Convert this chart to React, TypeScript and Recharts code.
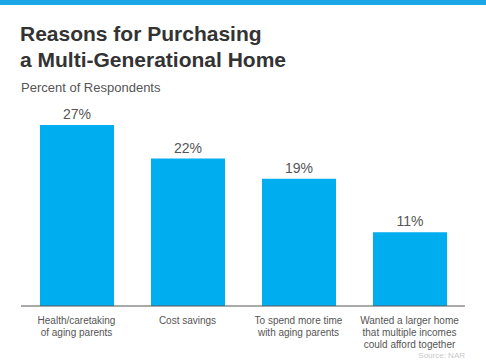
import React from "react";
import { BarChart, Bar, XAxis, YAxis, LabelList } from "recharts";

const categories = [
  "Health/caretaking\nof aging parents",
  "Cost savings",
  "To spend more time\nwith aging parents",
  "Wanted a larger home\nthat multiple incomes\ncould afford together",
];
const percents = [27, 22, 19, 11];

const data = categories.map((name, i) => ({ name, value: percents[i] }));

const FONT = "'Liberation Sans', Arial, sans-serif";
const BLUE = "#00aeef";

const MultiLineTick = ({ x, y, payload }: any) => {
  const lines = String(payload.value).split("\n");
  return (
    <text x={x} y={y} textAnchor="middle" fill="#555" fontSize={10} fontFamily={FONT}>
      {lines.map((line, i) => (
        <tspan key={i} x={x} dy={i === 0 ? 10 : 12}>
          {line}
        </tspan>
      ))}
    </text>
  );
};

export default function App() {
  return (
    <div
      style={{
        position: "absolute",
        top: 0,
        left: 0,
        width: 486,
        height: 360,
        background: "#fff",
        fontFamily: FONT,
        overflow: "hidden",
      }}
    >
      <div style={{ position: "absolute", top: 0, left: 0, width: 486, height: 5, background: "#1ba6e6" }} />
      <div
        style={{
          position: "absolute",
          top: 21,
          left: 20,
          fontSize: 21,
          lineHeight: "26px",
          fontWeight: 700,
          color: "#333",
        }}
      >
        Reasons for Purchasing
        <br />
        a Multi-Generational Home
      </div>
      <div style={{ position: "absolute", top: 80, left: 21, fontSize: 13, color: "#555" }}>
        Percent of Respondents
      </div>
      <div style={{ position: "absolute", top: 0, left: 0 }}>
        <BarChart
          width={486}
          height={360}
          data={data}
          margin={{ top: 105, right: 21, bottom: 0, left: 21 }}
        >
          <XAxis
            dataKey="name"
            height={54}
            interval={0}
            tick={<MultiLineTick />}
            tickLine={false}
            axisLine={{ stroke: "#555" }}
          />
          <YAxis hide domain={[0, 30]} />
          <Bar dataKey="value" fill={BLUE} barSize={74} isAnimationActive={false}>
            <LabelList
              dataKey="value"
              position="top"
              offset={6}
              formatter={(v: any) => `${v}%`}
              style={{ fill: "#555", fontSize: 14, fontFamily: FONT }}
            />
          </Bar>
        </BarChart>
      </div>
      <div
        style={{
          position: "absolute",
          top: 351,
          right: 21,
          fontSize: 8,
          lineHeight: "9px",
          color: "#c8c8c8",
        }}
      >
        Source: NAR
      </div>
    </div>
  );
}
